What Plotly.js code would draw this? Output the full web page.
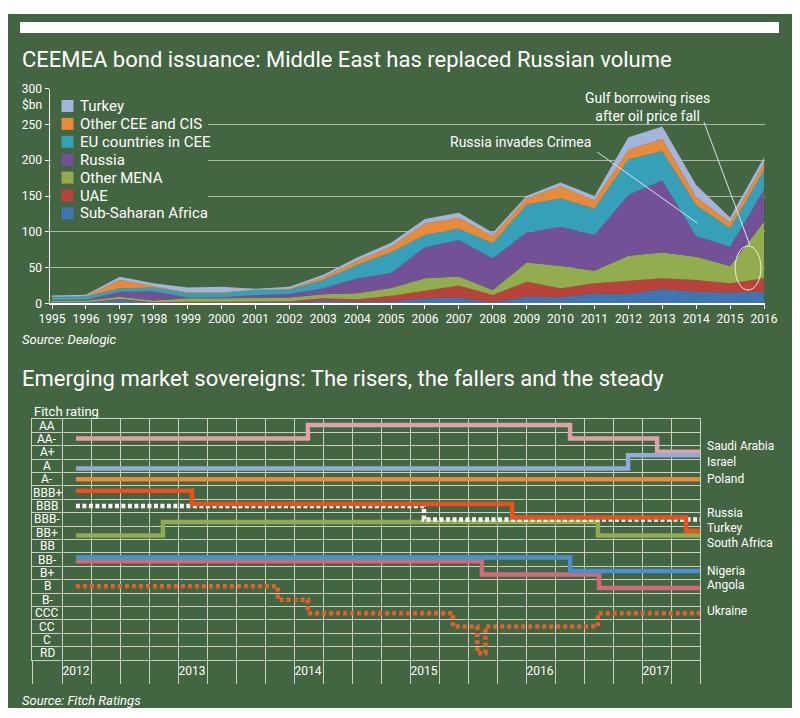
<!DOCTYPE html>
<html><head><meta charset="utf-8">
<script src="https://cdn.plot.ly/plotly-3.0.1.min.js"></script>
<style>html,body{margin:0;padding:0;background:#fff}#chart{width:800px;height:718px}</style>
</head><body><div id="chart"></div>
<script>
// ---------- Top chart data ($bn) ----------
const years = [1995,1996,1997,1998,1999,2000,2001,2002,2003,2004,2005,2006,2007,2008,2009,2010,2011,2012,2013,2014,2015,2016];
const subSaharanAfrica = [1,1,5,1,1,1,1.5,1.5,3.5,2.5,2.5,7,8,1.5,9,8.5,14,13,20,16,15,16];
const uae             = [0.5,0.5,1,0.5,1,1,1,1.5,3.5,3,8,10.5,17,10,21,12.5,14,18.5,15,16.5,13,19];
const otherMena       = [2,2,3,2.5,5,5,5,5,5.5,8.5,11,17.5,12.5,7,27,31,17.5,35,36,32.5,24,79];
const russia          = [1,1.5,7,13,1,1.5,4,5,8.5,21,21,43.5,51,44.5,42,55,50,85,101,29,27,45];
const euCee           = [4,4.5,5,5,6,5.5,7,6,11.5,18.5,29,17,16,21,39,40,37,50,41,43.5,26,27];
const otherCeeCis     = [0.5,0.5,12,2,1,1,0.5,1,4,6,8,16.5,15,10,9,17,11.5,13,17,11,8,10];
const turkey          = [2,2,4,4,7,8,1.5,3,3.5,4.5,5,6,7,4.5,3.5,5,6,17.5,17,17,7,8];
const areaNames = ['Sub-Saharan Africa','UAE','Other MENA','Russia','EU countries in CEE','Other CEE and CIS','Turkey'];
const areaValues = [subSaharanAfrica, uae, otherMena, russia, euCee, otherCeeCis, turkey];
const yTicks = [0,50,100,150,200,250,300];

// ---------- Bottom chart data ----------
const ratings = ['AA','AA-','A+','A','A-','BBB+','BBB','BBB-','BB+','BB','BB-','B+','B','B-','CCC','CC','C','RD'];
const ratingYears = [2012,2013,2014,2015,2016,2017];
const saudiDates = [2012.12,2014.12,2016.38,2017.13,2017.5];
const saudiRatings = ['AA-','AA','AA-','A+','A+'];
const israelDates = [2012.12,2016.88,2017.5];
const israelRatings = ['A','A+','A+'];
const polandDates = [2012.12,2017.5];
const polandRatings = ['A-','A-'];
const russiaDates = [2012.12,2015.12,2017.5];
const russiaRatings = ['BBB','BBB-','BBB-'];
const turkeyDates = [2012.12,2012.87,2016.62,2017.5];
const turkeyRatings = ['BB+','BBB-','BB+','BB+'];
const southAfricaDates = [2012.12,2013.12,2015.88,2017.38,2017.5];
const southAfricaRatings = ['BBB+','BBB','BBB-','BB+','BB+'];
const nigeriaDates = [2012.12,2016.38,2017.5];
const nigeriaRatings = ['BB-','B+','B+'];
const angolaDates = [2012.12,2015.62,2016.63,2017.5];
const angolaRatings = ['BB-','B+','B','B'];
const ukraineDates = [2012.12,2013.86,2014.12,2015.37,2015.58,2015.65,2016.62,2017.5];
const ukraineRatings = ['B','B-','CCC','CC','RD','CC','CCC','CCC'];

// ---------- Styles ----------
const GREEN = '#436541';
const FONT = "Roboto,'Liberation Sans',sans-serif";
const areaColors = ['#3f75b3','#b9423b','#92ad4d','#735197','#37a0b9','#e98a3b','#a3b5dd'];
const GRID_TOP = '#aab8a2';
const GRID_BOT = '#c9d1c4';
const W = 800, H = 718;
const px = v => v / W, py = v => 1 - v / H;

const countries = [
  {name:'Poland', d:polandDates, r:polandRatings, color:'#e38c3f', dash:'solid', off:0, lab:0},
  {name:'Saudi Arabia', d:saudiDates, r:saudiRatings, color:'#dba3a7', dash:'solid', off:-0.05, lab:-0.52},
  {name:'Israel', d:israelDates, r:israelRatings, color:'#92acd9', dash:'solid', off:0.2, lab:0.68},
  {name:'Turkey', d:turkeyDates, r:turkeyRatings, color:'#8fad50', dash:'solid', off:0.2, lab:-0.36},
  {name:'Russia', d:russiaDates, r:russiaRatings, color:'#ffffff', dash:'4px,2.5px', off:0, lab:-0.5},
  {name:'South Africa', d:southAfricaDates, r:southAfricaRatings, color:'#e9511f', dash:'solid', off:-0.15, lab:0.78},
  {name:'Angola', d:angolaDates, r:angolaRatings, color:'#cf6b7a', dash:'solid', off:0.12, lab:-0.08},
  {name:'Nigeria', d:nigeriaDates, r:nigeriaRatings, color:'#4d8ecd', dash:'solid', off:-0.15, lab:-0.16},
  {name:'Ukraine', d:ukraineDates, r:ukraineRatings, color:'#e0612b', dash:'4px,3px', off:0, lab:-0.14}
];

const traces = [];
areaValues.forEach((vals, i) => {
  traces.push({type:'scatter', x:years, y:vals, name:areaNames[i], stackgroup:'one', mode:'none',
    fillcolor:areaColors[i], line:{width:0}, showlegend:false, hoverinfo:'x+y+name', xaxis:'x', yaxis:'y'});
});
countries.forEach(c => {
  traces.push({type:'scatter', x:c.d, y:c.r.map(r => ratings.indexOf(r) + c.off), name:c.name,
    mode:'lines', line:{shape:'hv', color:c.color, width:4.5, dash:c.dash}, showlegend:false,
    xaxis:'x2', yaxis:'y2'});
});

// bottom axis tick positions
const xLeft = 2012 - 30/116, xRight = 2017.5;
const quarterVals = [xLeft];
ratingYears.forEach(y => { for (let q = 0; q < 4; q++) { const v = y + q*0.25; if (v <= xRight) quarterVals.push(v); } });
quarterVals.push(xRight);
const rowBounds = ratings.map((r, i) => i - 0.5).concat([ratings.length - 0.5]);

const annotations = [
  {text:'CEEMEA bond issuance: Middle East has replaced Russian volume', xref:'paper', yref:'paper', x:px(20), y:py(60), xanchor:'left', yanchor:'middle', showarrow:false, font:{size:22, color:'#fff', family:FONT}},
  {text:'$bn', xref:'paper', yref:'paper', x:px(44), y:py(105), xanchor:'right', yanchor:'middle', showarrow:false, font:{size:12, color:'#fff', family:FONT}},
  {text:'Source: Dealogic', xref:'paper', yref:'paper', x:px(20), y:py(340), xanchor:'left', yanchor:'middle', showarrow:false, font:{size:13, color:'#fff', family:FONT, style:'italic'}},
  {text:'Emerging market sovereigns: The risers, the fallers and the steady', xref:'paper', yref:'paper', x:px(20), y:py(378), xanchor:'left', yanchor:'middle', showarrow:false, font:{size:22, color:'#fff', family:FONT}},
  {text:'Fitch rating', xref:'paper', yref:'paper', x:px(32), y:py(411), xanchor:'left', yanchor:'middle', showarrow:false, font:{size:13, color:'#fff', family:FONT}},
  {text:'Source: Fitch Ratings', xref:'paper', yref:'paper', x:px(20), y:py(700), xanchor:'left', yanchor:'middle', showarrow:false, font:{size:13, color:'#fff', family:FONT, style:'italic'}},
  {text:'Russia invades Crimea', xref:'x', yref:'y', x:2008.81, y:225.5, xanchor:'center', yanchor:'middle', showarrow:false, font:{size:14, color:'#fff', family:FONT}},
  {text:'Gulf borrowing rises<br>after oil price fall', xref:'x', yref:'y', x:2012.55, y:274.5, xanchor:'center', yanchor:'middle', showarrow:false, align:'center', font:{size:14, color:'#fff', family:FONT}}
];
// right-hand country labels
countries.forEach(c => {
  annotations.push({text:c.name, xref:'paper', yref:'y2', x:px(706), y:ratings.indexOf(c.r[c.r.length-1]) + c.lab,
    xanchor:'left', yanchor:'middle', showarrow:false, borderpad:0, font:{size:12, color:'#fff', family:FONT}});
});
// rating labels in the left column
ratings.forEach((r, i) => {
  annotations.push({text:r, xref:'paper', yref:'y2', x:px(47), y:i, xanchor:'center', yanchor:'middle',
    showarrow:false, borderpad:0, font:{size:12, color:'#fff', family:FONT}});
});

const shapes = [
  {type:'rect', xref:'paper', yref:'paper', x0:px(8), x1:px(792), y0:py(708), y1:py(14), fillcolor:GREEN, line:{width:0}, layer:'below'},
  {type:'rect', xref:'paper', yref:'paper', x0:px(20), x1:px(779), y0:py(33), y1:py(22), fillcolor:'#ffffff', line:{width:0}, layer:'below'},
  {type:'line', xref:'x', yref:'y', x0:2011.08, y0:211.5, x1:2014.03, y1:112.3, line:{color:'#dfe3f2', width:1}},
  {type:'line', xref:'x', yref:'y', x0:2014.23, y0:253.3, x1:2015.59, y1:80.5, line:{color:'#dfe3f2', width:1}},
  {type:'circle', xref:'x', yref:'y', x0:2015.15, x1:2015.91, y0:18.6, y1:80.1, line:{color:'#f0f0e0', width:1}},
  // legend backdrop (masks the gridlines behind the key)
  {type:'rect', xref:'paper', yref:'paper', x0:px(51), x1:px(208), y0:py(223), y1:py(96), fillcolor:GREEN, line:{width:0}, layer:'above'}
];
// legend key: Turkey on top, Sub-Saharan Africa at bottom
const legendOrder = areaNames.map((n, i) => i).reverse();
legendOrder.forEach((idx, k) => {
  const cy = 106 + k * 17.9;
  shapes.push({type:'rect', xref:'paper', yref:'paper', x0:px(61.5), x1:px(73.5), y0:py(cy + 6), y1:py(cy - 6),
    fillcolor:areaColors[idx], line:{width:0}, layer:'above'});
  annotations.push({text:areaNames[idx], xref:'paper', yref:'paper', x:px(78), y:py(cy), xanchor:'left', yanchor:'middle',
    showarrow:false, font:{size:15, color:'#fff', family:FONT}});
});

const layout = {
  width:W, height:H, margin:{l:0, r:0, t:0, b:0},
  paper_bgcolor:'#ffffff', plot_bgcolor:'rgba(0,0,0,0)',
  font:{family:FONT, color:'#ffffff'},
  showlegend:false,
  xaxis:{domain:[px(50), px(765)], range:[1995 - 2/33.9, 2016 + 1/33.9], tickvals:years, ticktext:years.map(String),
    ticks:'outside', ticklen:4, tickcolor:'#fff', showline:true, linecolor:'#fff', linewidth:1.5, showgrid:false, zeroline:false,
    tickfont:{size:12, color:'#fff', family:FONT}, anchor:'y', fixedrange:true},
  yaxis:{domain:[py(303.3), py(88.7)], range:[0,300], tickvals:yTicks, ticks:'outside', ticklen:4, tickcolor:'#fff',
    showline:true, linecolor:'#fff', linewidth:1.5, showgrid:true, gridcolor:GRID_TOP, gridwidth:1, zeroline:false,
    tickfont:{size:12, color:'#fff', family:FONT}, anchor:'x', fixedrange:true},
  xaxis2:{domain:[px(32), px(700)], range:[xLeft, xRight], anchor:'y2',
    tickvals:ratingYears, ticktext:ratingYears.map(String), ticks:'', showgrid:true, gridcolor:GRID_BOT, gridwidth:1,
    ticklabelshift:14, tickfont:{size:12, color:'#fff', family:FONT},
    minor:{tickmode:'array', tickvals:quarterVals, ticks:'outside', ticklen:23, tickcolor:GRID_BOT, tickwidth:1, showgrid:true, gridcolor:GRID_BOT, gridwidth:1},
    showline:true, mirror:true, linecolor:GRID_BOT, linewidth:1, zeroline:false, fixedrange:true},
  yaxis2:{domain:[py(660), py(419)], range:[ratings.length - 0.5, -0.5], anchor:'x2',
    tickvals:ratings.map((r,i) => i), ticktext:ratings, ticks:'', showgrid:false, showticklabels:false,
    minor:{tickmode:'array', tickvals:rowBounds, ticks:'', showgrid:true, gridcolor:GRID_BOT, gridwidth:1},
    showline:true, mirror:true, linecolor:GRID_BOT, linewidth:1, zeroline:false, fixedrange:true},
  annotations:annotations,
  shapes:shapes
};

Plotly.newPlot('chart', traces, layout, {displayModeBar:false, staticPlot:true});
</script>
</body></html>
